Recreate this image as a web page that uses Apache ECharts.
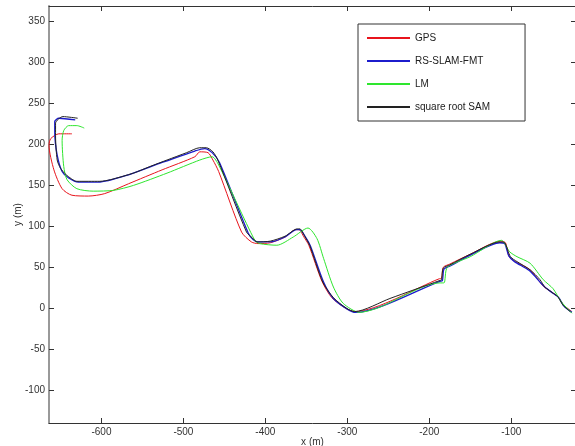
<!DOCTYPE html>
<html lang="en">
<style>
  #container {
    width: 575px;
    height: 446px;
    margin: 0;
  }

  body {
    margin: 0;
    background: #ffffff;
  }
</style>

<head>
  <meta charset="UTF-8">
  <script src="https://cdn.jsdelivr.net/npm/echarts@6/dist/echarts.min.js"></script>
</head>

<body>
  <div id="container"></div>
  <script>
    // tick labels
    var xTicks = [-600, -500, -400, -300, -200, -100];
    var yTicks = [-100, -50, 0, 50, 100, 150, 200, 250, 300, 350];

    // trajectories, [x, y] in metres
    var gpsTrack = [
      [-636, 213], [-652, 213], [-662, 207], [-664, 199], [-658, 169], [-648, 146], [-636, 138],
      [-616, 137], [-596, 140], [-567, 152], [-526, 169], [-486, 185], [-480, 191], [-470, 190],
      [-464, 181], [-457, 167], [-429, 93], [-417, 81], [-409, 79], [-394, 80], [-376, 87],
      [-363, 96], [-359, 96], [-353, 87], [-347, 77], [-331, 33], [-319, 13], [-302, 0], [-291, -4],
      [-188, 36], [-185, 37], [-183, 50], [-175, 54], [-150, 66], [-113, 82], [-107, 80], [-103, 64],
      [-97, 58], [-77, 47], [-61, 27], [-51, 20], [-43, 14], [-36, 4], [-26, -4]
    ];
    var fmtTrack = [
      [-632, 230], [-652, 232], [-657, 228], [-657, 215], [-654, 187], [-648, 167], [-640, 159],
      [-628, 154], [-604, 154], [-567, 163], [-526, 178], [-486, 192], [-474, 195], [-465, 190],
      [-456, 178], [-421, 92], [-415, 84], [-409, 81], [-394, 81], [-376, 87], [-362, 96], [-358, 96],
      [-351, 87], [-345, 76], [-329, 32], [-317, 12], [-300, -1], [-290, -5], [-187, 33], [-184, 34],
      [-182, 48], [-174, 52], [-150, 65], [-114, 80], [-108, 79], [-103, 64], [-96, 57], [-78, 46],
      [-63, 30], [-58, 25], [-50, 19], [-42, 13], [-36, 3], [-26, -5]
    ];
    var lmTrack = [
      [-621, 220], [-630, 223], [-640, 223], [-646, 217], [-648, 205], [-646, 173], [-642, 157],
      [-630, 146], [-610, 143], [-585, 144], [-561, 150], [-520, 165], [-480, 181], [-465, 185],
      [-457, 175], [-413, 83], [-407, 79], [-386, 77], [-366, 87], [-348, 98], [-337, 85], [-329, 61],
      [-317, 26], [-305, 6], [-285, -5], [-264, 0], [-187, 31], [-182, 31], [-178, 50], [-150, 63],
      [-112, 83], [-102, 69], [-93, 63], [-77, 55], [-61, 35], [-49, 24], [-39, 8], [-26, -6]
    ];
    var samTrack = [
      [-629, 232], [-647, 234], [-656, 226], [-656, 211], [-654, 181], [-650, 171], [-643, 163],
      [-630, 155], [-602, 155], [-589, 157], [-561, 165], [-541, 173], [-520, 181], [-496, 190],
      [-480, 196], [-472, 196], [-464, 191], [-458, 181], [-423, 93], [-416, 86], [-410, 81],
      [-394, 82], [-376, 88], [-361, 97], [-358, 97], [-352, 88], [-346, 77], [-330, 32], [-317, 13],
      [-301, 0], [-291, -4], [-248, 12], [-187, 34], [-185, 35], [-183, 49], [-175, 53], [-150, 66],
      [-114, 81], [-108, 80], [-101, 63], [-93, 57], [-77, 47], [-65, 35], [-59, 26], [-51, 20],
      [-43, 14], [-37, 4], [-28, -4]
    ];

    var font = 'Liberation Sans, Arial, sans-serif';
    var myChart = echarts.init(document.getElementById('container'));

    function line(name, color, data, width) {
      return {
        name: name,
        type: 'line',
        data: data,
        symbol: 'none',
        smooth: 0.25,
        lineStyle: { color: color, width: width },
        itemStyle: { color: color },
        animation: false
      };
    }

    var option = {
      backgroundColor: '#fff',
      grid: { left: 49, right: -1, top: 6, bottom: 23, containLabel: false, outerBoundsMode: 'none' },
      legend: {
        orient: 'vertical',
        left: 358,
        top: 24,
        padding: [7, 35, 7, 8],
        itemWidth: 43,
        itemHeight: 14,
        itemGap: 9,
        borderColor: '#333',
        borderWidth: 1,
        itemStyle: { opacity: 0 },
        textStyle: { fontFamily: font, fontSize: 10, color: '#222', lineHeight: 14 },
        data: ['GPS', 'RS-SLAM-FMT', 'LM', 'square root SAM']
      },
      xAxis: [{
        type: 'value',
        min: -664,
        max: -21,
        name: 'x (m)',
        nameLocation: 'middle',
        nameGap: 14,
        nameMoveOverlap: false,
        nameTextStyle: { fontFamily: font, fontSize: 10, color: '#333' },
        axisLine: { onZero: false, lineStyle: { color: '#333', width: 1 } },
        axisTick: { inside: true, length: 5, customValues: xTicks, lineStyle: { color: '#333' } },
        axisLabel: { customValues: xTicks, fontFamily: font, fontSize: 10, color: '#333', margin: 4 },
        splitLine: { show: false }
      }, {
        type: 'value',
        position: 'top',
        min: -664,
        max: -21,
        axisLine: { show: true, onZero: false, lineStyle: { color: '#333', width: 1 } },
        axisTick: { inside: true, length: 5, customValues: xTicks, lineStyle: { color: '#333' } },
        axisLabel: { show: false },
        splitLine: { show: false }
      }],
      yAxis: [{
        type: 'value',
        min: -140,
        max: 369,
        name: 'y (m)',
        nameLocation: 'middle',
        nameGap: 26,
        nameMoveOverlap: false,
        nameTextStyle: { fontFamily: font, fontSize: 10, color: '#333' },
        axisLine: { show: true, onZero: false, lineStyle: { color: '#999', width: 2 } },
        axisTick: { show: true, inside: true, length: 5, customValues: yTicks, lineStyle: { color: '#333' } },
        axisLabel: { customValues: yTicks, fontFamily: font, fontSize: 10, color: '#333', margin: 4 },
        splitLine: { show: false }
      }, {
        type: 'value',
        position: 'right',
        min: -140,
        max: 369,
        axisLine: { show: true, onZero: false, lineStyle: { color: '#333', width: 1 } },
        axisTick: { show: true, inside: true, length: 5, customValues: yTicks, lineStyle: { color: '#333' } },
        axisLabel: { show: false },
        splitLine: { show: false }
      }],
      series: [
        line('GPS', '#e8141c', gpsTrack, 1),
        line('RS-SLAM-FMT', '#1c1ccc', fmtTrack, 1.3),
        line('LM', '#2ee62e', lmTrack, 1),
        line('square root SAM', '#222222', samTrack, 1)
      ]
    };
    myChart.setOption(option);
  </script>
</body>

</html>
